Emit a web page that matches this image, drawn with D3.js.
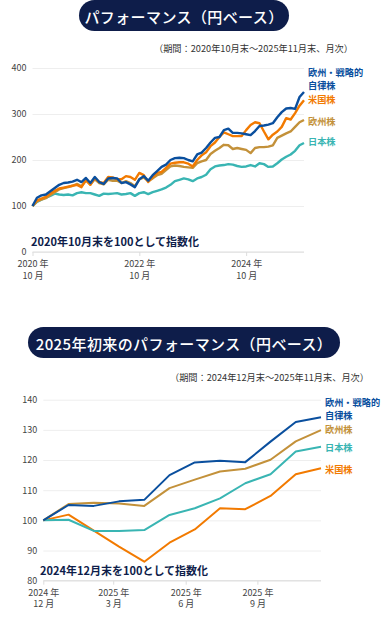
<!DOCTYPE html>
<html>
<head>
<meta charset="utf-8">
<script src="https://cdn.jsdelivr.net/npm/d3@7"></script>
<style>
  body { margin: 0; background: #fff; font-family: "Noto Sans CJK JP", "Noto Sans", sans-serif; }
  svg { display: block; }
</style>
</head>
<body>
<div id="chart"></div>
<script>
/* **************************** */
// données

// graphique 1 : fin oct 2020 -> fin nov 2025, mensuel (62 points)
var monthsTop = d3.range(62);
var euStrategic = [100,118,123,125,132,139,146,150,151,153,157,152,161,150,163,152,148,160,161,160,
  150,152,147,141,158,165,155,167,176,185,190,200,204,205,204,200,197,212,216,226,
  238,248,250,265,268,259,259,258,256,254,263,274,275,277,280,293,304,312,313,311,337,348];
var usStock = [100,112,116,120,127,133,138,140,142,144,146,141,157,146,161,152,150,163,162,158,
  158,165,163,157,172,167,152,163,172,174,183,192,194,195,195,192,186,200,210,217,
  230,238,250,260,256,252,252,252,265,276,282,280,262,245,255,262,272,291,288,302,318,330];
var euStock = [100,110,114,117,124,130,136,139,141,144,148,143,155,147,158,150,147,157,155,155,
  150,154,150,143,158,162,154,160,167,170,178,186,188,187,185,184,183,193,197,200,
  213,220,226,233,232,224,226,224,222,215,226,228,228,229,232,248,253,258,262,272,282,287];
var jpStock = [100,109,114,118,122,127,125,124,125,123,128,130,128,128,125,122,127,126,127,128,
  125,126,128,122,128,130,126,130,133,136,140,146,154,157,160,158,154,160,163,168,
  180,186,188,189,191,190,187,185,186,189,186,193,191,185,186,193,201,207,212,220,232,237];
var topYTicks = [0, 100, 200, 300, 400];
var topXTicks = [0, 24, 48];
var topXLabels = [["2020 年", "10 月"], ["2022 年", "10 月"], ["2024 年", "10 月"]];

// graphique 2 : fin déc 2024 -> fin nov 2025 (12 points)
var monthsYtd = d3.range(12);
var euStrategicYtd = [100,105.1,104.8,106.3,106.8,115,119.2,119.8,119.3,126.1,132.6,134.2];
var euStockYtd = [100,105.4,105.8,105.6,104.8,110.7,113.5,116.2,117.1,120.1,126.2,129.9];
var jpStockYtd = [100,100.2,96.5,96.5,96.8,101.8,104,107.3,112.3,115.3,122.8,124.4];
var usStockYtd = [100,101.9,96.6,91.3,86.3,92.6,97,104,103.7,108.1,115.3,117.3];
var ytdYTicks = [80, 90, 100, 110, 120, 130, 140];
var ytdXTicks = [0, 2.77, 5.64, 8.48];
var ytdXLabels = [["2024 年", "12 月"], ["2025 年", "3 月"], ["2025 年", "6 月"], ["2025 年", "9 月"]];

var colors = { strat: "#0a4f9e", us: "#f27a00", eu: "#c3913a", jp: "#39b5b3" };
var navy = "#0e1d4a";

var W = 385, H = 618;
var svg = d3.select("#chart").append("svg").attr("width", W).attr("height", H);

/* **************************** */
// titre en forme de pilule
function pill(x0, x1, y0, y1, txt) {
  svg.append("rect")
    .attr("x", x0).attr("y", y0)
    .attr("width", x1 - x0).attr("height", y1 - y0)
    .attr("rx", (y1 - y0) / 2)
    .attr("fill", navy);
  svg.append("text")
    .attr("x", (x0 + x1) / 2).attr("y", (y0 + y1) / 2 + 0.5)
    .attr("text-anchor", "middle").attr("dominant-baseline", "central")
    .attr("fill", "#fff").attr("font-size", 15).attr("font-weight", 500)
    .attr("letter-spacing", 0.4)
    .text(txt);
}

function note(x, y, txt) {
  svg.append("text")
    .attr("x", x).attr("y", y)
    .attr("text-anchor", "end")
    .attr("fill", "#333").attr("font-size", 9.2)
    .text(txt);
}

/* **************************** */
// dessin d'un graphique linéaire
function drawChart(cfg) {
  var x = d3.scaleLinear().domain(cfg.xDomain).range(cfg.xRange);
  var y = d3.scaleLinear().domain(cfg.yDomain).range(cfg.yRange);
  var g = svg.append("g");

  // grille
  var yAxis = d3.axisLeft(y).tickValues(cfg.yTicks).tickSize(-(cfg.xRange[1] - cfg.xRange[0])).tickPadding(6);
  g.append("g")
    .attr("transform", `translate(${cfg.xRange[0]},0)`)
    .call(yAxis)
    .call(s => s.select(".domain").remove())
    .call(s => s.selectAll(".tick line").attr("stroke", "#eeeeee").attr("stroke-width", 1))
    .call(s => s.selectAll(".tick text").attr("fill", "#444").attr("font-size", 9)
      .attr("font-family", "'Noto Sans CJK JP', sans-serif"));

  // axe x
  var xAxis = d3.axisBottom(x).tickValues(cfg.xTicks).tickSize(4).tickFormat("");
  var ax = g.append("g")
    .attr("transform", `translate(0,${cfg.yRange[0]})`)
    .call(xAxis);
  ax.select(".domain").attr("stroke", "#dddddd").attr("d", `M${cfg.xRange[0]},0H${cfg.xRange[1]}`);
  ax.selectAll(".tick line").attr("stroke", "#dddddd");
  ax.selectAll(".tick").append("text")
    .attr("fill", "#444").attr("font-size", 9).attr("text-anchor", "middle")
    .attr("font-family", "'Noto Sans CJK JP', sans-serif")
    .selectAll("tspan")
    .data((d, i) => cfg.xLabels[i])
    .enter().append("tspan")
    .attr("x", 0)
    .attr("y", (d, i) => 15 + i * 11.5)
    .text(d => d);

  // texte d'indexation
  g.append("text")
    .attr("x", cfg.noteX).attr("y", cfg.noteY)
    .attr("fill", navy).attr("font-size", 11).attr("font-weight", 700)
    .text(cfg.note);

  // lignes
  var line = d3.line().x((d, i) => x(cfg.xs[i])).y(d => y(d));
  cfg.series.forEach(function (s) {
    g.append("path")
      .datum(s.values)
      .attr("fill", "none")
      .attr("stroke", s.color)
      .attr("stroke-width", cfg.lineWidth)
      .attr("stroke-linejoin", "round")
      .attr("d", line);
  });

  // étiquettes (une ligne de texte par élément)
  cfg.labels.forEach(function (l) {
    l.lines.forEach(function (str, i) {
      g.append("text")
        .attr("x", cfg.xRange[1] + 4).attr("y", l.y + i * 13)
        .attr("fill", l.color).attr("font-size", 9.2).attr("font-weight", 700)
        .text(str);
    });
  });
}

/* **************************** */
// graphique 1
pill(79, 289, 0, 31, "パフォーマンス（円ベース）");
note(353, 52, "（期間：2020年10月末～2025年11月末、月次）");

drawChart({
  xs: monthsTop,
  xDomain: [0, 61], xRange: [32.5, 304],
  yDomain: [0, 400], yRange: [252, 68],
  yTicks: topYTicks, xTicks: topXTicks, xLabels: topXLabels,
  lineWidth: 2.4,
  note: "2020年10月末を100として指数化", noteX: 31, noteY: 246,
  series: [
    { values: jpStock, color: colors.jp },
    { values: euStock, color: colors.eu },
    { values: usStock, color: colors.us },
    { values: euStrategic, color: colors.strat }
  ],
  labels: [
    { lines: ["欧州・戦略的", "自律株"], y: 76, color: colors.strat },
    { lines: ["米国株"], y: 103, color: colors.us },
    { lines: ["欧州株"], y: 125, color: colors.eu },
    { lines: ["日本株"], y: 145, color: colors.jp }
  ]
});

/* **************************** */
// graphique 2
pill(28, 340, 327, 358, "2025年初来のパフォーマンス（円ベース）");
note(369, 381, "（期間：2024年12月末～2025年11月末、月次）");

drawChart({
  xs: monthsYtd,
  xDomain: [0, 11], xRange: [43.3, 321],
  yDomain: [80, 140], yRange: [580.7, 399.7],
  yTicks: ytdYTicks, xTicks: ytdXTicks, xLabels: ytdXLabels,
  lineWidth: 2,
  note: "2024年12月末を100として指数化", noteX: 40, noteY: 575,
  series: [
    { values: usStockYtd, color: colors.us },
    { values: jpStockYtd, color: colors.jp },
    { values: euStockYtd, color: colors.eu },
    { values: euStrategicYtd, color: colors.strat }
  ],
  labels: [
    { lines: ["欧州・戦略的", "自律株"], y: 406, color: colors.strat },
    { lines: ["欧州株"], y: 433, color: colors.eu },
    { lines: ["日本株"], y: 451, color: colors.jp },
    { lines: ["米国株"], y: 473, color: colors.us }
  ]
});
</script>
</body>
</html>
